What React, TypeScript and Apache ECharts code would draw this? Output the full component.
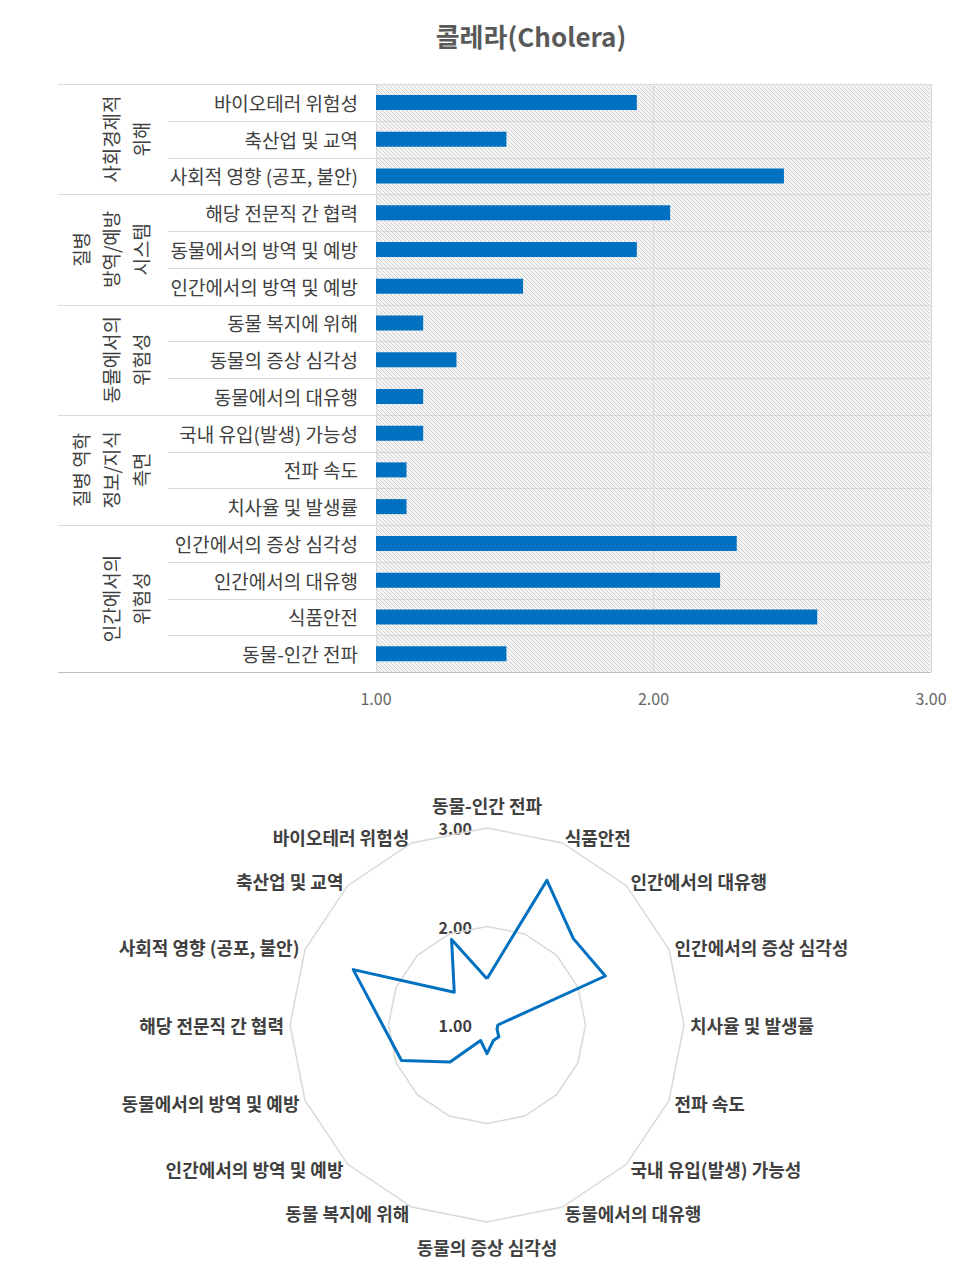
import { useEffect, useRef } from 'react';
import * as echarts from 'echarts';

const W = 970;
const H = 1279;
const FONT = '"Noto Sans CJK KR", "Noto Sans", sans-serif';

// ---- data ----
const title = '콜레라(Cholera)';
const categories = [
  '바이오테러 위험성',
  '축산업 및 교역',
  '사회적 영향 (공포, 불안)',
  '해당 전문직 간 협력',
  '동물에서의 방역 및 예방',
  '인간에서의 방역 및 예방',
  '동물 복지에 위해',
  '동물의 증상 심각성',
  '동물에서의 대유행',
  '국내 유입(발생) 가능성',
  '전파 속도',
  '치사율 및 발생률',
  '인간에서의 증상 심각성',
  '인간에서의 대유행',
  '식품안전',
  '동물-인간 전파',
];
const scores = [1.94, 1.47, 2.47, 2.06, 1.94, 1.53, 1.17, 1.29, 1.17, 1.17, 1.11, 1.11, 2.3, 2.24, 2.59, 1.47];
const groupSizes = [3, 3, 3, 3, 4];
const groupLabels = [
  ['사회경제적', '위해'],
  ['질병', '방역/예방', '시스템'],
  ['동물에서의', '위험성'],
  ['질병 역학', '정보/지식', '측면'],
  ['인간에서의', '위험성'],
];
const axisMin = 1;
const axisMax = 3;
const radarTicks = [1, 2, 3];

// ---- layout ----
const GRID_LEFT = 376;
const GRID_RIGHT_X = 931;
const GRID_TOP = 84;
const GRID_H = 588;
const LINE_LEFT_GROUP = 58;
const LINE_LEFT_ROW = 168;
const RADAR_CX = 487;
const RADAR_CY = 1025;
const RADAR_R = 197;

export default function App() {
  const ref = useRef<HTMLDivElement>(null);
  useEffect(() => {
    const chart = echarts.init(ref.current!, null, { renderer: 'svg', width: W, height: H });

    const canvas = document.createElement('canvas');
    canvas.width = 4;
    canvas.height = 4;
    const ctx = canvas.getContext('2d')!;
    ctx.fillStyle = '#f5f5f5';
    ctx.fillRect(0, 0, 4, 4);
    ctx.fillStyle = '#d0d0d0';
    for (let i = 0; i < 4; i++) ctx.fillRect(i, i, 1, 1);
    const hatch: any = { image: canvas.toDataURL(), repeat: 'repeat', imageWidth: 4, imageHeight: 4 };

    const n = categories.length;
    const rowH = GRID_H / n;
    const graphics: any[] = [];

    graphics.push({
      type: 'text',
      x: 531,
      y: 35,
      style: {
        text: title,
        fontSize: 26,
        fontWeight: 'bold',
        fontFamily: FONT,
        fill: '#595959',
        align: 'center',
        verticalAlign: 'middle',
      },
    });

    // row separators
    const groupBounds = new Set<number>();
    let acc = 0;
    groupBounds.add(0);
    groupSizes.forEach((s) => {
      acc += s;
      groupBounds.add(acc);
    });
    for (let i = 0; i <= n; i++) {
      const y = Math.round(GRID_TOP + i * rowH) + 0.5;
      const isGroup = groupBounds.has(i);
      graphics.push({
        type: 'line',
        z: 10,
        shape: { x1: isGroup ? LINE_LEFT_GROUP : LINE_LEFT_ROW, y1: y, x2: GRID_RIGHT_X, y2: y },
        style: { stroke: i === n ? '#bfbfbf' : '#d9d9d9', lineWidth: 1 },
      });
    }

    // group labels (vertical)
    let start = 0;
    groupSizes.forEach((s, g) => {
      const cy = GRID_TOP + (start + s / 2) * rowH;
      const cols = groupLabels[g];
      cols.forEach((t, i) => {
        const x = 140 - (cols.length - 1 - i) * 30;
        graphics.push({
          type: 'text',
          x,
          y: cy,
          rotation: Math.PI / 2,
          style: {
            text: t,
            fontSize: 19,
            fontFamily: FONT,
            fill: '#404040',
            align: 'center',
            verticalAlign: 'middle',
          },
        });
      });
      start += s;
    });

    // radar tick labels
    radarTicks.forEach((v) => {
      graphics.push({
        type: 'text',
        x: RADAR_CX - 15,
        y: RADAR_CY - (RADAR_R * (v - axisMin)) / (axisMax - axisMin),
        style: {
          text: v.toFixed(2),
          fontSize: 16,
          fontWeight: 'bold',
          fontFamily: FONT,
          fill: '#404040',
          align: 'right',
          verticalAlign: 'middle',
        },
      });
    });

    // radar order: top, then counter-clockwise
    const radarIdx = [n - 1, ...Array.from({ length: n - 1 }, (_, i) => i)];
    const topName = categories[radarIdx[0]];
    const bottomName = categories[radarIdx[n / 2]];
    const nameStyle = { color: '#404040', fontSize: 18, fontWeight: 'bold', fontFamily: FONT };

    chart.setOption({
      animation: false,
      textStyle: { fontFamily: FONT },
      grid: {
        left: GRID_LEFT,
        top: GRID_TOP,
        width: GRID_RIGHT_X - GRID_LEFT,
        height: GRID_H,
        show: true,
        backgroundColor: hatch,
        borderWidth: 0,
      },
      xAxis: {
        type: 'value',
        min: axisMin,
        max: axisMax,
        interval: 1,
        axisLine: { show: false },
        axisTick: { show: false },
        axisLabel: {
          color: '#666666',
          fontSize: 16,
          margin: 18,
          formatter: (v: number) => v.toFixed(2),
        },
        splitLine: { show: true, lineStyle: { color: '#d9d9d9', width: 1 } },
      },
      yAxis: {
        type: 'category',
        inverse: true,
        data: categories,
        axisLine: { show: false },
        axisTick: { show: false },
        splitLine: { show: false },
        axisLabel: { color: '#404040', fontSize: 19, margin: 18 },
      },
      radar: {
        center: [RADAR_CX, RADAR_CY],
        radius: RADAR_R,
        startAngle: 90,
        shape: 'polygon',
        splitNumber: 2,
        nameGap: 6,
        indicator: radarIdx.map((i) => ({ name: categories[i], min: axisMin, max: axisMax })),
        axisName: {
          ...nameStyle,
          formatter: (name: string) =>
            name === topName ? `{t|${name}}` : name === bottomName ? `{b|${name}}` : name,
          rich: {
            t: { ...nameStyle, padding: [0, 0, 8, 0] },
            b: { ...nameStyle, padding: [10, 0, 0, 0] },
          },
        },
        axisLine: { show: false },
        axisTick: { show: false },
        axisLabel: { show: false },
        splitArea: { show: false },
        splitLine: { lineStyle: { color: '#d9d9d9', width: 1.5 } },
      },
      series: [
        {
          type: 'bar',
          data: scores,
          barWidth: 15,
          itemStyle: { color: '#0070c0' },
          z: 20,
        },
        {
          type: 'radar',
          symbol: 'none',
          lineStyle: { color: '#0070c0', width: 3 },
          data: [{ value: radarIdx.map((i) => scores[i]) }],
        },
      ],
      graphic: graphics,
    });

    return () => chart.dispose();
  }, []);
  return (
    <div
      ref={ref}
      style={{ position: 'absolute', left: 0, top: 0, width: W, height: H, background: '#fff' }}
    />
  );
}
